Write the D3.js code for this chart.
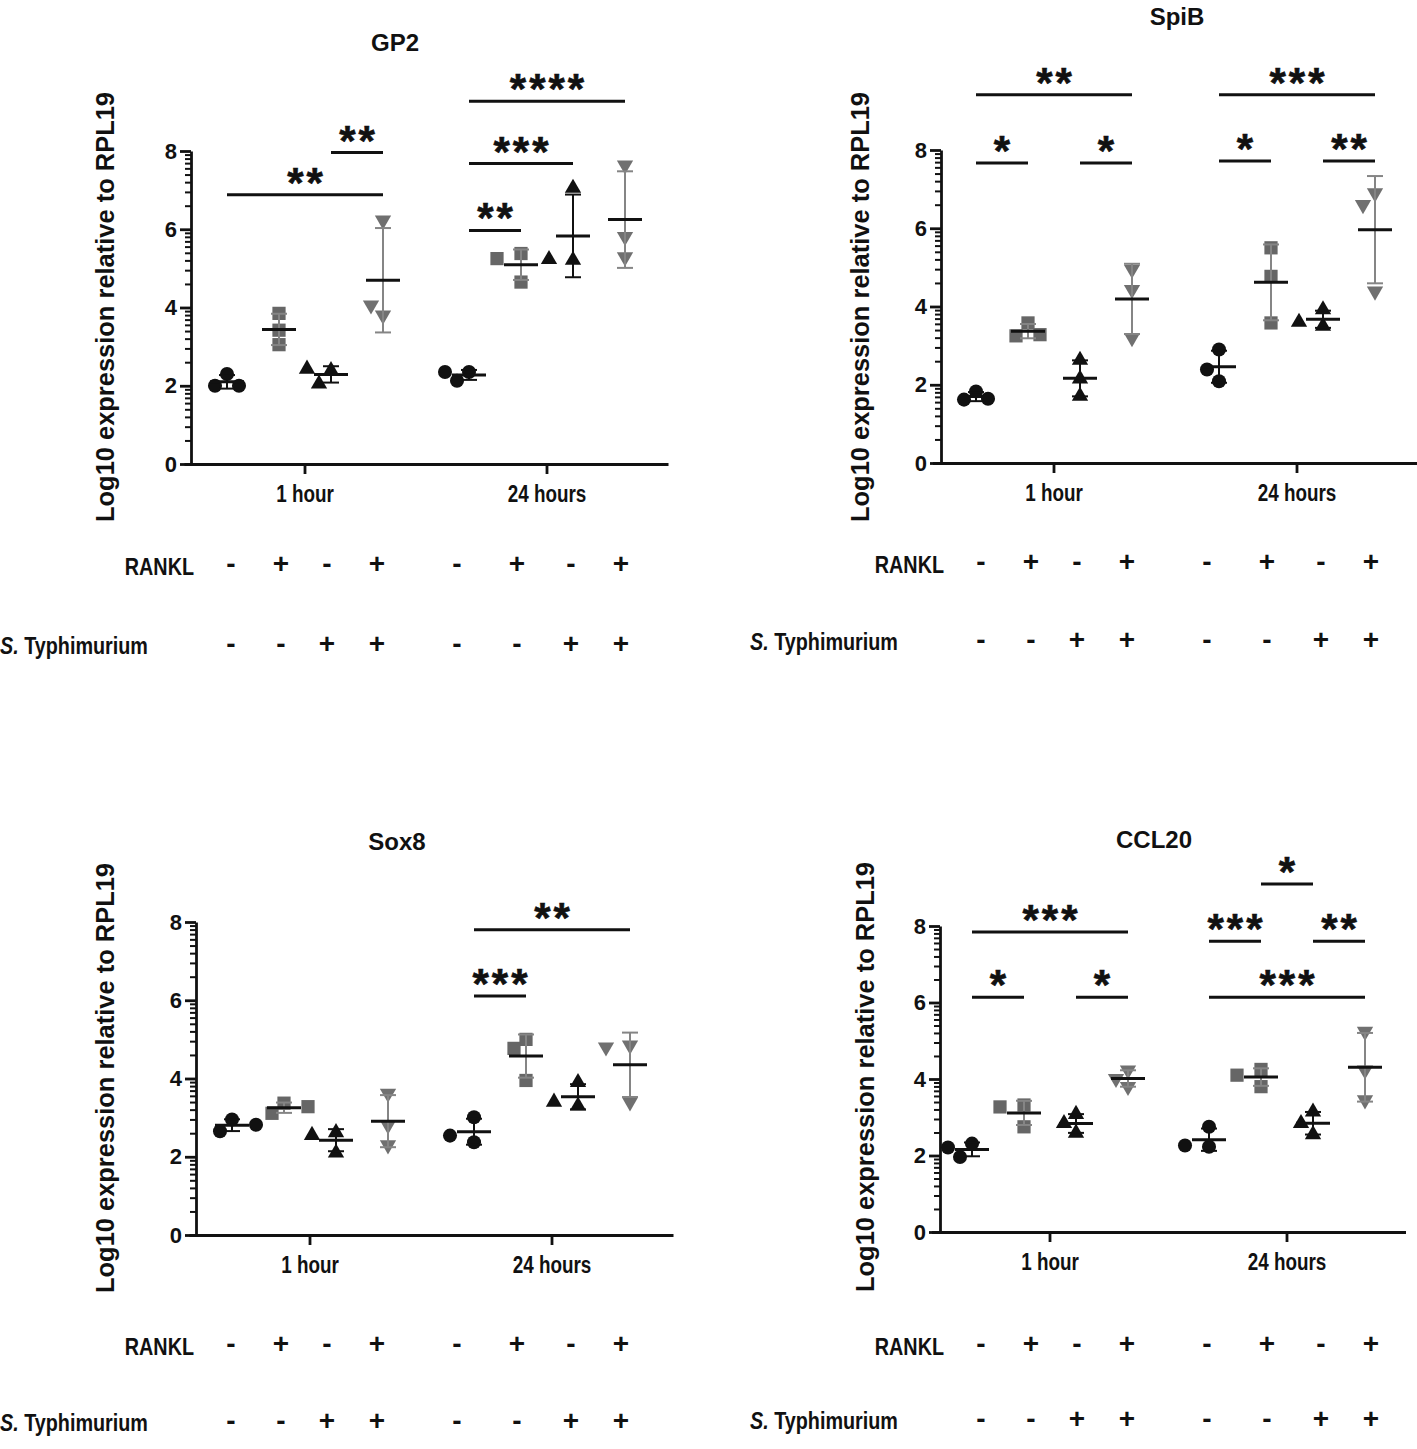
<!DOCTYPE html>
<html>
<head>
<meta charset="utf-8">
<script src="https://cdn.jsdelivr.net/npm/d3@7"></script>
<style>
  body { margin: 0; background: #fff; }
  svg text { font-family: "Liberation Sans", Arial, sans-serif; font-weight: bold; fill: #111; }
</style>
</head>
<body>
<svg id="chart" width="1417" height="1449"></svg>
<script>
const groups = ["1 hour", "24 hours"];
const rankl = ["-", "+", "-", "+", "-", "+", "-", "+"];
const sTyph = ["-", "-", "+", "+", "-", "-", "+", "+"];
const yTicks = [0, 2, 4, 6, 8];
const yLabel = "Log10 expression relative to RPL19";

// three replicates per column: 4 treatments at 1 hour, then 4 at 24 hours
const gp2Values = [
  [2.3, 2.0, 2.0], [3.85, 3.42, 3.05], [2.39, 2.43, 2.05], [6.23, 3.8, 4.06],
  [2.35, 2.13, 2.35], [5.38, 5.25, 4.65], [7.05, 5.21, 5.23], [7.64, 5.81, 5.29],
];
const spibValues = [
  [1.83, 1.62, 1.64], [3.58, 3.25, 3.28], [2.63, 2.15, 1.71], [4.95, 4.43, 3.2],
  [2.9, 2.09, 2.39], [5.5, 4.77, 3.58], [3.92, 3.5, 3.6], [6.9, 6.6, 4.39],
];
const sox8Values = [
  [2.95, 2.65, 2.82], [3.37, 3.11, 3.28], [2.62, 2.1, 2.55], [3.62, 2.81, 2.3],
  [3.01, 2.37, 2.54], [5.0, 3.95, 4.77], [3.9, 3.3, 3.4], [4.85, 4.8, 3.4],
];
const ccl20Values = [
  [2.31, 1.96, 2.21], [3.32, 2.75, 3.27], [3.08, 2.59, 2.84], [4.23, 3.8, 4.01],
  [2.75, 2.23, 2.26], [4.25, 3.8, 4.1], [3.14, 2.55, 2.84], [5.24, 4.23, 3.45],
];

// significance brackets: [time point, from column, to column, height, stars]
const gp2Sig = [
  [0, 0, 3, 6.88, "**"], [0, 2, 3, 7.96, "**"],
  [1, 0, 1, 5.97, "**"], [1, 0, 2, 7.68, "***"], [1, 0, 3, 9.27, "****"],
];
const spibSig = [
  [0, 0, 1, 7.67, "*"], [0, 2, 3, 7.67, "*"], [0, 0, 3, 9.41, "**"],
  [1, 0, 1, 7.72, "*"], [1, 2, 3, 7.72, "**"], [1, 0, 3, 9.41, "***"],
];
const sox8Sig = [
  [1, 0, 1, 6.11, "***"], [1, 0, 3, 7.8, "**"],
];
const ccl20Sig = [
  [0, 0, 1, 6.14, "*"], [0, 2, 3, 6.14, "*"], [0, 0, 3, 7.84, "***"],
  [1, 0, 1, 7.6, "***"], [1, 2, 3, 7.6, "**"], [1, 0, 3, 6.14, "***"], [1, 1, 2, 9.1, "*"],
];

const panels = [
  { title: "GP2", values: gp2Values, sig: gp2Sig, x0: 191, y0: 464, y8: 151, ticks: [305, 547],
    titlePos: [395, 43], labelPos: [105, 307], base: 191, rows: [565, 645], sLeft: 0 },
  { title: "SpiB", values: spibValues, sig: spibSig, x0: 941, y0: 463, y8: 150, ticks: [1054, 1297],
    titlePos: [1177, 17], labelPos: [860, 307], base: 941, rows: [563, 641], sLeft: 750 },
  { title: "Sox8", values: sox8Values, sig: sox8Sig, x0: 196, y0: 1235, y8: 922, ticks: [310, 552],
    titlePos: [397, 842], labelPos: [105, 1078], base: 191, rows: [1345, 1422], sLeft: 0 },
  { title: "CCL20", values: ccl20Values, sig: ccl20Sig, x0: 940, y0: 1232, y8: 926, ticks: [1050, 1287],
    titlePos: [1154, 840], labelPos: [865, 1077], base: 941, rows: [1345, 1420], sLeft: 750 },
];

const ink = "#111";
const fills = [ink, "#666", ink, "#707070"];
const barColors = [ink, "#858585", ink, "#858585"];
const shapes = [d3.symbolCircle, d3.symbolSquare, d3.symbolTriangle, d3.symbolTriangle];
const sizes = [155, 175, 115, 115];
const signOffsets = [40, 90, 136, 186, 266, 326, 380, 430];

const svg = d3.select("#chart");

function dodge(vals, y, step, minDist) {
  const placed = [];
  return vals.map((v) => {
    const py = y(v);
    for (const k of [0, -1, 1, -2, 2]) {
      const px = k * step;
      if (placed.every((p) => Math.hypot(p.x - px, p.y - py) >= minDist)) {
        placed.push({ x: px, y: py });
        return px;
      }
    }
    return 0;
  });
}

function drawPanel(p) {
  const g = svg.append("g");
  const y = d3.scaleLinear().domain([0, 8]).range([p.y0, p.y8]);
  const bw = p.ticks[1] - p.ticks[0];
  const xg = d3.scaleBand().domain(groups).range([p.ticks[0] - bw / 2, p.ticks[1] + bw / 2]);
  const colOff = d3.scaleLinear().domain([0, 3]).range([-78, 78]);
  const colX = (t, i) => xg(groups[t]) + xg.bandwidth() / 2 + colOff(i);

  // y axis: majors plus log-style minors
  const minor = yTicks.slice(0, -1).flatMap((v) => d3.range(2, 10).map((k) => v + 2 * Math.log10(k)));
  g.append("g")
    .attr("transform", `translate(${p.x0},0)`)
    .call(d3.axisLeft(y).tickValues(minor).tickSize(6).tickSizeOuter(0).tickFormat(""))
    .call((a) => a.select(".domain").remove())
    .selectAll("line").attr("stroke", ink).attr("stroke-width", 2);
  const ya = g.append("g")
    .attr("transform", `translate(${p.x0},0)`)
    .call(d3.axisLeft(y).tickValues(yTicks).tickSize(11).tickSizeOuter(0).tickPadding(3));
  ya.selectAll("path, line").attr("stroke", ink).attr("stroke-width", 2.8);
  ya.selectAll("text").attr("font-size", 22).attr("fill", ink);

  // x axis
  const xa = g.append("g")
    .attr("transform", `translate(0,${p.y0})`)
    .call(d3.axisBottom(xg).tickSize(10).tickSizeOuter(0).tickPadding(12));
  xa.selectAll("path, line").attr("stroke", ink).attr("stroke-width", 2.8);
  xa.selectAll("text").attr("font-size", 23).attr("fill", ink).attr("transform", "scale(0.82,1)");

  // points, SD bars, means
  p.values.forEach((vals, c) => {
    const t = Math.floor(c / 4);
    const i = c % 4;
    const cx = colX(t, i);
    const offs = dodge(vals, y, 12, 14);
    const sym = d3.symbol().type(shapes[i]).size(sizes[i]);
    g.append("g").selectAll("path")
      .data(vals)
      .join("path")
      .attr("d", sym)
      .attr("fill", fills[i])
      .attr("transform", (v, j) => `translate(${cx + offs[j]},${y(v)})${i === 3 ? " rotate(180)" : ""}`);

    const m = d3.mean(vals);
    const sd = d3.deviation(vals);
    const eb = g.append("g").attr("stroke", barColors[i]).attr("stroke-width", 2);
    eb.append("line").attr("x1", cx).attr("x2", cx).attr("y1", y(m - sd)).attr("y2", y(m + sd));
    [m - sd, m + sd].forEach((v) => {
      eb.append("line").attr("x1", cx - 8).attr("x2", cx + 8).attr("y1", y(v)).attr("y2", y(v));
    });
    g.append("line")
      .attr("x1", cx - 17).attr("x2", cx + 17)
      .attr("y1", y(m)).attr("y2", y(m))
      .attr("stroke", ink).attr("stroke-width", 3);
  });

  // significance brackets
  p.sig.forEach(([t, a, b, h, stars]) => {
    const x1 = colX(t, a);
    const x2 = colX(t, b);
    g.append("line")
      .attr("x1", x1).attr("x2", x2).attr("y1", y(h)).attr("y2", y(h))
      .attr("stroke", ink).attr("stroke-width", 3);
    g.append("text")
      .attr("x", (x1 + x2) / 2 + 1.5).attr("y", y(h) + 2)
      .attr("text-anchor", "middle")
      .attr("font-size", 42)
      .attr("letter-spacing", 3)
      .attr("stroke", ink).attr("stroke-width", 0.6)
      .text(stars);
  });

  // title and axis label
  g.append("text")
    .attr("x", p.titlePos[0]).attr("y", p.titlePos[1])
    .attr("dy", "0.35em").attr("text-anchor", "middle")
    .attr("font-size", 24)
    .text(p.title);
  g.append("text")
    .attr("transform", `translate(${p.labelPos[0]},${p.labelPos[1]}) rotate(-90)`)
    .attr("dy", "0.35em").attr("text-anchor", "middle")
    .attr("font-size", 25)
    .attr("textLength", 430).attr("lengthAdjust", "spacingAndGlyphs")
    .text(yLabel);

  // treatment rows
  g.append("text")
    .attr("transform", `translate(${p.base + 3},${p.rows[0] + 2}) scale(0.86,1)`)
    .attr("dy", "0.35em").attr("text-anchor", "end")
    .attr("font-size", 23)
    .text("RANKL");
  const st = g.append("text")
    .attr("transform", `translate(${p.sLeft},${p.rows[1] + 1}) scale(0.86,1)`)
    .attr("dy", "0.35em")
    .attr("font-size", 23);
  st.append("tspan").attr("font-style", "italic").text("S.");
  st.append("tspan").text(" Typhimurium");

  [rankl, sTyph].forEach((row, r) => {
    g.append("g").selectAll("text")
      .data(row)
      .join("text")
      .attr("x", (d, k) => p.base + signOffsets[k])
      .attr("y", p.rows[r] - 2)
      .attr("dy", "0.35em")
      .attr("text-anchor", "middle")
      .attr("font-size", 28)
      .text((d) => d);
  });
}

panels.forEach(drawPanel);
</script>
</body>
</html>
